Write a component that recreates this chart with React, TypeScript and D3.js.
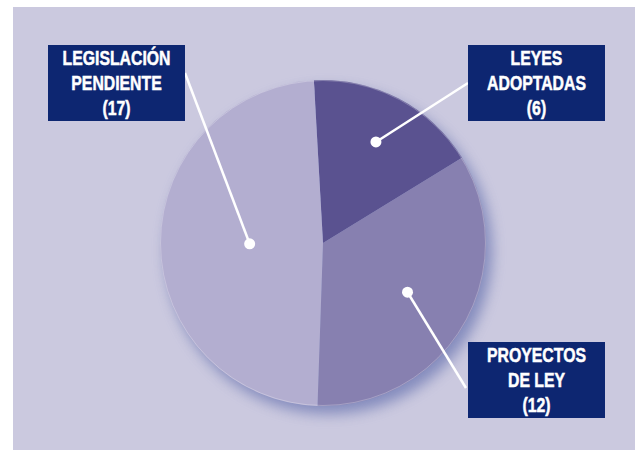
import * as d3 from "d3";
import React from "react";

// datos del gráfico
const categories = ["LEYES ADOPTADAS", "PROYECTOS DE LEY", "LEGISLACIÓN PENDIENTE"];
const values = [6, 12, 17];
const labelLines = [
  ["LEYES", "ADOPTADAS"],
  ["PROYECTOS", "DE LEY"],
  ["LEGISLACIÓN", "PENDIENTE"],
];

const colors = ["#5a5290", "#8780b0", "#b3aed0"];

// posiciones de las etiquetas (cajas y puntos de anclaje)
const labelLayout = [
  { x: 468, y: 45, ax: 468, ay: 83, k: 0.7 },
  { x: 468, y: 342, ax: 466, ay: 388, k: 0.6 },
  { x: 48, y: 45, ax: 185, ay: 73, k: 0.45 },
];

export default function App() {
  const width = 635;
  const height = 450;
  const cx = 323;
  const cy = 243;
  const radius = 163;
  const boxW = 137;
  const boxH = 76;

  const pie = d3
    .pie<number>()
    .sort(null)
    .startAngle(-0.056)
    .endAngle(-0.056 + Math.PI * 2);
  const arcs = pie(values);
  const arc = d3.arc<d3.PieArcDatum<number>>().innerRadius(0).outerRadius(radius);

  const font = "'Liberation Sans', Arial, sans-serif";

  return (
    <svg
      width={width}
      height={height}
      style={{ position: "absolute", left: 0, top: 0 }}
    >
      <defs>
        <filter id="shadow" x="-30%" y="-30%" width="160%" height="160%">
          <feGaussianBlur stdDeviation="7" />
        </filter>
      </defs>
      <rect x={0} y={0} width={width} height={height} fill="#ffffff" />
      <rect x={13} y={7} width={width - 13} height={height - 7} fill="#cbc9df" />

      {/* sombra */}
      <circle
        cx={cx + 6}
        cy={cy + 8}
        r={radius}
        fill="#7c84b9"
        filter="url(#shadow)"
        opacity={0.9}
      />

      <g transform={`translate(${cx},${cy})`}>
        {arcs.map((d, i) => (
          <path key={categories[i]} d={arc(d) || ""} fill={colors[i]} />
        ))}
        <circle r={radius - 0.5} fill="none" stroke="#ffffff" strokeOpacity={0.25} strokeWidth={1} />
      </g>

      {/* líneas guía */}
      {arcs.map((d, i) => {
        const L = labelLayout[i];
        const inner = d3
          .arc<d3.PieArcDatum<number>>()
          .innerRadius(radius * L.k)
          .outerRadius(radius * L.k);
        const [px, py] = inner.centroid(d);
        return (
          <g key={"lead" + i}>
            <line
              x1={cx + px}
              y1={cy + py}
              x2={L.ax}
              y2={L.ay}
              stroke="#ffffff"
              strokeWidth={2.5}
            />
            <circle cx={cx + px} cy={cy + py} r={5.5} fill="#ffffff" />
          </g>
        );
      })}

      {/* etiquetas (texto condensado con scaleX) */}
      {labelLayout.map((L, i) => {
        const lines = [...labelLines[i], `(${values[i]})`];
        return (
          <g key={"lab" + i}>
            <rect x={L.x} y={L.y} width={boxW} height={boxH} fill="#0d2671" />
            {lines.map((t, j) => (
              <text
                key={j}
                transform={`translate(${L.x + boxW / 2},${L.y + 20 + j * 25}) scale(0.79,1)`}
                textAnchor="middle"
                fill="#ffffff"
                stroke="#ffffff"
                strokeWidth={0.5}
                fontFamily={font}
                fontWeight="bold"
                fontSize={20}
              >
                {t}
              </text>
            ))}
          </g>
        );
      })}
    </svg>
  );
}
